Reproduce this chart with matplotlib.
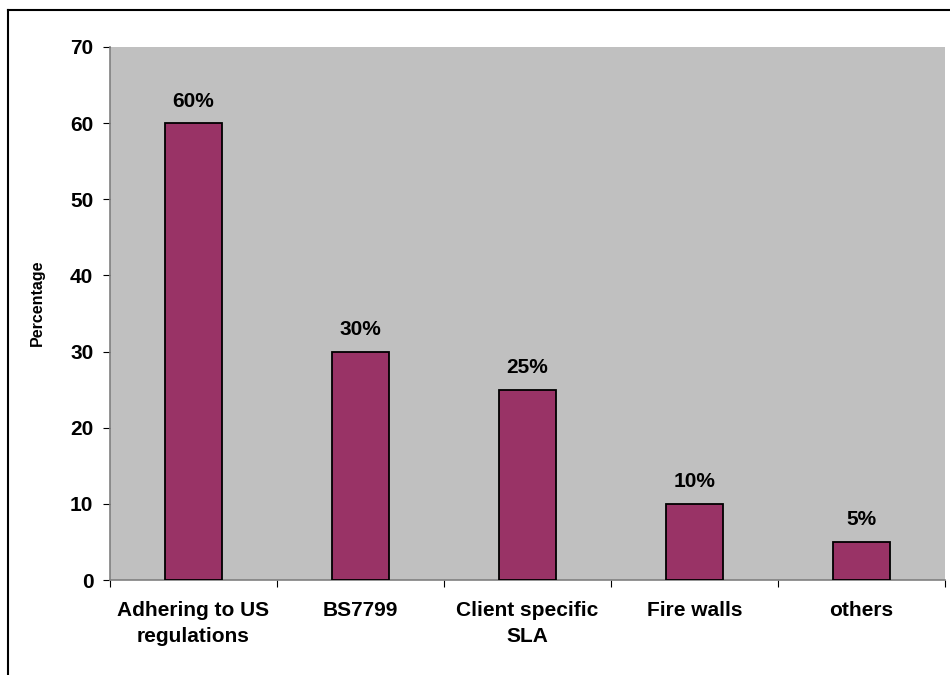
import matplotlib
matplotlib.use("Agg")
import matplotlib.pyplot as plt
from matplotlib.lines import Line2D

categories = ["Adhering to US\nregulations", "BS7799", "Client specific\nSLA", "Fire walls", "others"]
values = [60, 30, 25, 10, 5]
labels = ["60%", "30%", "25%", "10%", "5%"]

plt.rcParams.update({"font.family": "Liberation Sans", "font.size": 15, "font.weight": "bold"})
fig = plt.figure(figsize=(9.5, 6.75), dpi=100)
ax = fig.add_axes([110 / 950, 1 - 580 / 675, 835 / 950, 533 / 675])
ax.set_facecolor("#C0C0C0")

x = range(len(categories))
ax.bar(x, values, width=0.34, color="#993366", edgecolor="black", linewidth=1.3, zorder=3)
for xi, v, lab in zip(x, values, labels):
    ax.annotate(lab, (xi, v), textcoords="offset points", xytext=(0, 9),
                ha="center", va="bottom", fontsize=15, fontweight="bold")

ax.set_xlim(-0.5, len(categories) - 0.5)
ax.set_ylim(0, 70)
ax.set_yticks(range(0, 71, 10))
ax.set_xticks([i + 0.5 for i in range(-1, len(categories))])
ax.set_xticklabels([])
ax.set_xticks(list(x), minor=True)
ax.set_xticklabels(categories, minor=True, fontweight="bold", fontsize=15, linespacing=1.5)
ax.tick_params(axis="x", which="minor", length=0, pad=15)
ax.tick_params(axis="x", which="major", length=5, direction="out", color="black")
ax.tick_params(axis="y", length=5, direction="out", color="black", pad=7, labelsize=15)
for s in ("top", "right"):
    ax.spines[s].set_visible(False)
for s in ("left", "bottom"):
    ax.spines[s].set_color("#808080")
    ax.spines[s].set_linewidth(1.2)
ax.set_ylabel("Percentage", fontweight="bold", fontsize=11.5)
ax.yaxis.set_label_coords(-0.078, 0.52)

# outer chart border (only left and top visible)
fig.add_artist(Line2D([8 / 950, 8 / 950], [0, 1 - 10 / 675], color="black", lw=1.5))
fig.add_artist(Line2D([8 / 950, 1], [1 - 10 / 675, 1 - 10 / 675], color="black", lw=1.5))

fig.savefig("out.png", dpi=100)
